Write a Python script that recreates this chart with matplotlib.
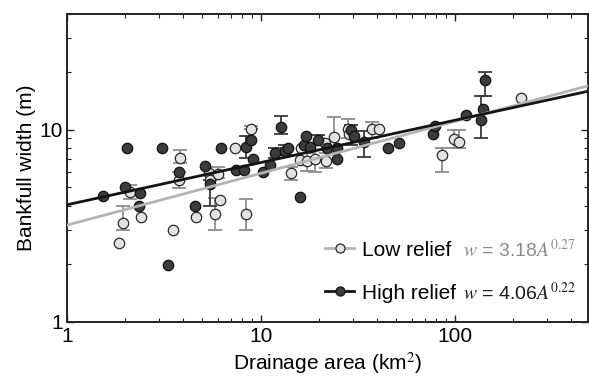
import numpy as np
import matplotlib
matplotlib.use('Agg')
import matplotlib.pyplot as plt
from matplotlib.lines import Line2D
from matplotlib.ticker import LogLocator, FixedLocator, FixedFormatter, NullFormatter

plt.rcParams['font.family'] = ['Liberation Sans', 'DejaVu Sans']
plt.rcParams['mathtext.fontset'] = 'stix'

# low relief basins
low_area = [1.86, 1.95, 2.11, 2.43, 3.55, 3.85, 3.80, 4.64, 5.40, 5.45, 5.83, 6.02, 6.18, 7.40, 8.37, 8.89,
            14.3, 16.0, 16.1, 17.4, 19.1, 21.7, 21.5, 24.0, 28.3, 28.6, 37.6, 40.8, 86.0, 98.8, 105.3, 221.0]
low_width = [2.58, 3.25, 4.73, 3.49, 3.00, 7.16, 5.50, 3.49, 5.96, 5.50, 3.62, 5.91, 4.28, 8.03, 3.62, 10.08,
             5.96, 6.99, 8.03, 6.84, 7.07, 6.90, 8.53, 9.12, 10.1, 9.50, 10.1, 10.1, 7.36, 8.94, 8.63, 14.6]
low_err_top = [None, 4.00, 5.12, None, None, 7.87, 6.00, None, None, None, 4.38, 6.37, None, None, 4.37, 10.4,
               6.40, None, None, 7.60, 7.80, 7.60, None, 11.7, 11.3, None, 11.0, None, 8.00, 10.0, 10.0, None]
low_err_bot = [None, 2.99, 4.33, None, None, 6.70, 4.98, None, None, None, 2.99, 5.61, None, None, 2.99, 10.08,
               5.50, None, None, 6.10, 6.00, 6.30, None, 8.00, 9.00, None, 9.00, None, 6.00, 8.00, 8.00, None]

# high relief basins
high_area = [1.54, 2.04, 2.00, 2.40, 2.36, 3.09, 3.34, 3.79, 4.58, 5.15, 5.51, 6.28, 7.50, 8.24, 8.44, 8.89,
             9.14, 10.3, 11.2, 11.8, 12.7, 13.4, 13.8, 16.0, 16.7, 17.2, 18.0, 19.7, 22.1, 24.7, 24.7, 29.1,
             30.2, 33.9, 45.4, 51.6, 77.1, 79.4, 114.5, 136.5, 139.8, 143.7]
high_width = [4.49, 8.03, 5.00, 4.67, 3.98, 8.03, 1.98, 5.99, 3.99, 6.49, 5.23, 8.03, 6.18, 6.15, 8.09, 8.87,
              7.03, 5.99, 6.57, 7.56, 10.3, 7.71, 8.03, 4.46, 8.28, 9.23, 8.09, 8.87, 8.03, 8.03, 7.03, 10.0,
              9.23, 8.59, 8.03, 8.52, 9.53, 10.5, 11.97, 11.27, 12.8, 18.07]
high_err_top = [None] * 10 + [5.5, None, None, None, 9.23, None, None, None, None, 8.03, 11.83, 8.33] + \
               [None] * 5 + [9.4, None, None, None, 10.6, None, 9.8] + [None] * 5 + [14.9, None, 20.0]
high_err_bot = [None] * 10 + [4.0, None, None, None, 7.12, None, None, None, None, 7.12, 9.5, 7.4] + \
               [None] * 5 + [8.3, None, None, None, 8.3, None, 7.2] + [None] * 5 + [9.0, None, 14.9]

# power law fits w = a * A^b
low_fit = (3.18, 0.27)
high_fit = (4.06, 0.22)

low_face, low_line, low_bar = '#e2e2e2', '#b4b4b4', '#8c8c8c'
high_face, high_line, high_bar = '#3c3c3c', '#141414', '#3a3a3a'

fig = plt.figure(figsize=(5.89, 3.79), dpi=100)
ax = fig.add_axes([66.7 / 589, 57.3 / 379, 521.8 / 589, 307.7 / 379])


def draw_errors(area, width, top, bot, color):
    x, y, lo, hi = [], [], [], []
    for a, w, t, b in zip(area, width, top, bot):
        if t is None:
            continue
        x.append(a)
        y.append(w)
        lo.append(max(w - b, 0))
        hi.append(max(t - w, 0))
    ax.errorbar(x, y, yerr=[lo, hi], fmt='none', ecolor=color, elinewidth=1.3,
                capsize=5, capthick=1.3, zorder=2)


draw_errors(low_area, low_width, low_err_top, low_err_bot, low_bar)
draw_errors(high_area, high_width, high_err_top, high_err_bot, high_bar)

ax.plot(low_area, low_width, 'o', ms=7.5, mfc=low_face, mec='#2a2a2a', mew=0.9, zorder=3)
ax.plot(high_area, high_width, 'o', ms=7.5, mfc=high_face, mec='#111111', mew=0.9, zorder=4)

xs = np.logspace(0, np.log10(490), 50)
ax.plot(xs, low_fit[0] * xs ** low_fit[1], color=low_line, lw=2.0, zorder=5)
ax.plot(xs, high_fit[0] * xs ** high_fit[1], color=high_line, lw=2.0, zorder=5)

ax.set_xscale('log')
ax.set_yscale('log')
ax.set_xlim(1, 490)
ax.set_ylim(1, 40)

ax.xaxis.set_major_locator(FixedLocator([1, 10, 100]))
ax.xaxis.set_major_formatter(FixedFormatter(['1', '10', '100']))
ax.xaxis.set_minor_locator(LogLocator(base=10, subs=np.arange(2, 10)))
ax.xaxis.set_minor_formatter(NullFormatter())
ax.yaxis.set_major_locator(FixedLocator([1, 10]))
ax.yaxis.set_major_formatter(FixedFormatter(['1', '10']))
ax.yaxis.set_minor_locator(LogLocator(base=10, subs=np.arange(2, 10)))
ax.yaxis.set_minor_formatter(NullFormatter())

ax.tick_params(which='both', direction='in', top=True, right=True, labelsize=15, color='#222222')
ax.tick_params(which='major', length=5, width=1)
ax.tick_params(which='minor', length=3, width=0.8)
ax.tick_params(axis='x', pad=4)
ax.tick_params(axis='y', pad=3)
for s in ax.spines.values():
    s.set_linewidth(1.4)
    s.set_color('#222222')

ax.set_xlabel('Drainage area (km$^2$)', fontsize=15, labelpad=3)
ax.set_ylabel('Bankfull width (m)', fontsize=15, labelpad=2)

handles = [
    Line2D([], [], color=low_line, lw=2, marker='o', ms=6.5, mfc=low_face, mec='#2a2a2a', mew=0.9),
    Line2D([], [], color=high_line, lw=2, marker='o', ms=6.5, mfc=high_face, mec='#111111', mew=0.9),
]
ax.legend(handles, ['Low relief', 'High relief'], loc='center left', bbox_to_anchor=(0.495, 0.163),
          frameon=False, fontsize=15, handlelength=1.4, handletextpad=0.4, labelspacing=1.15,
          borderpad=0, borderaxespad=0)

ax.text(0.7595, 0.233, r'$w$ = 3.18$A^{0.27}$', transform=ax.transAxes, fontsize=14,
        color='#8a8a8a', va='center', ha='left')
ax.text(0.7595, 0.093, r'$w$ = 4.06$A^{0.22}$', transform=ax.transAxes, fontsize=14,
        color='#1a1a1a', va='center', ha='left')

fig.savefig('out.png', dpi=100)
